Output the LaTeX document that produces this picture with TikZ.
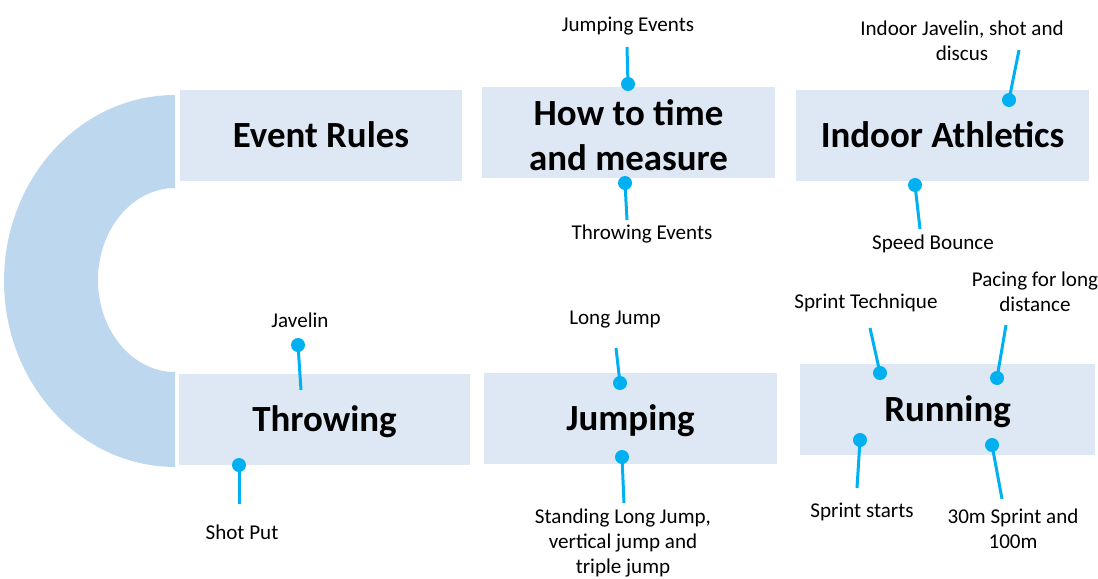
\documentclass[tikz,border=0pt]{standalone}
\usepackage{fontspec}
\setmainfont{Carlito}
\definecolor{boxfill}{HTML}{DDE8F4}
\definecolor{arcfill}{HTML}{BDD7EE}
\definecolor{pinblue}{HTML}{00B0F0}
\begin{document}
\begin{tikzpicture}[x=0.02cm,y=-0.02cm,
  box/.style={fill=boxfill,draw=none,inner sep=0pt,align=center,font=\fontsize{21}{25.5}\selectfont\bfseries},
  onebox/.style={box,text height=13.5pt,text depth=0pt},
  dot/.style={circle,fill=pinblue,draw=none,minimum size=0.28cm,inner sep=0pt},
  pin/.style={draw=pinblue,line width=0.06cm},
  lbl/.style={font=\fontsize{12}{14.2}\selectfont,align=center,inner sep=0pt}]
\useasboundingbox (0,0) rectangle (1098,578);
% arc
\fill[arcfill] (175,95) arc[start angle=90,end angle=270,x radius=3.42cm,y radius=3.72cm]
  -- (175,372) arc[start angle=270,end angle=90,x radius=1.54cm,y radius=1.84cm] -- cycle;
% boxes
\node[onebox,minimum width=5.64cm,minimum height=1.82cm] (er) at (321,135.5) {Event Rules};
\node[box,minimum width=5.86cm,minimum height=1.82cm] (ht) at (628.5,132.5) {};
\node[box,fill=none] (httext) at (628.5,135) {How to time\\and measure};
\node[onebox,minimum width=5.86cm,minimum height=1.82cm] (ia) at (942.5,135.5) {Indoor Athletics};
\node[onebox,minimum width=5.82cm,minimum height=1.82cm] (th) at (324.5,419.5) {Throwing};
\node[onebox,minimum width=5.86cm,minimum height=1.82cm] (ju) at (630.5,418.5) {Jumping};
\node[onebox,minimum width=5.90cm,minimum height=1.82cm] (ru) at (947.5,409.5) {Running};
% labels
\node[lbl] (l1) at (628,26) {Jumping Events};
\node[lbl] (l2) at (642,234) {Throwing Events};
\node[lbl] (l3) at (962,41) {Indoor Javelin, shot and\\discus};
\node[lbl] (l4) at (933,244) {Speed Bounce};
\node[lbl] (l5) at (300,320) {Javelin};
\node[lbl] (l6) at (242,532) {Shot Put};
\node[lbl] (l7) at (615,320) {Long Jump};
\node[lbl] (l8) at (623,543) {Standing Long Jump,\\vertical jump and\\triple jump};
\node[lbl] (l9) at (866,303) {Sprint Technique};
\node[lbl] (l10) at (1035,292) {Pacing for long\\distance};
\node[lbl] (l11) at (862,512) {Sprint starts};
\node[lbl] (l12) at (1013,529) {30m Sprint and\\100m};
% pins
\coordinate (e1) at (627,47);
\node[dot] (d1) at (628,84) {};
\draw[pin] (d1.center) -- (e1);
\coordinate (e2) at (627,220);
\node[dot] (d2) at (625,183) {};
\draw[pin] (d2.center) -- (e2);
\coordinate (e3) at (1019,50);
\node[dot] (d3) at (1009,100) {};
\draw[pin] (d3.center) -- (e3);
\coordinate (e4) at (920,229);
\node[dot] (d4) at (915,185) {};
\draw[pin] (d4.center) -- (e4);
\coordinate (e5) at (301,390);
\node[dot] (d5) at (298,345) {};
\draw[pin] (d5.center) -- (e5);
\coordinate (e6) at (239,504);
\node[dot] (d6) at (239,465) {};
\draw[pin] (d6.center) -- (e6);
\coordinate (e7) at (616,348);
\node[dot] (d7) at (620,383) {};
\draw[pin] (d7.center) -- (e7);
\coordinate (e8) at (624,503);
\node[dot] (d8) at (622,457) {};
\draw[pin] (d8.center) -- (e8);
\coordinate (e9) at (870,328);
\node[dot] (d9) at (880,373) {};
\draw[pin] (d9.center) -- (e9);
\coordinate (e10) at (1006,325);
\node[dot] (d10) at (997,378) {};
\draw[pin] (d10.center) -- (e10);
\coordinate (e11) at (857,488);
\node[dot] (d11) at (860,440) {};
\draw[pin] (d11.center) -- (e11);
\coordinate (e12) at (1002,499);
\node[dot] (d12) at (992,445) {};
\draw[pin] (d12.center) -- (e12);
\end{tikzpicture}
\end{document}
